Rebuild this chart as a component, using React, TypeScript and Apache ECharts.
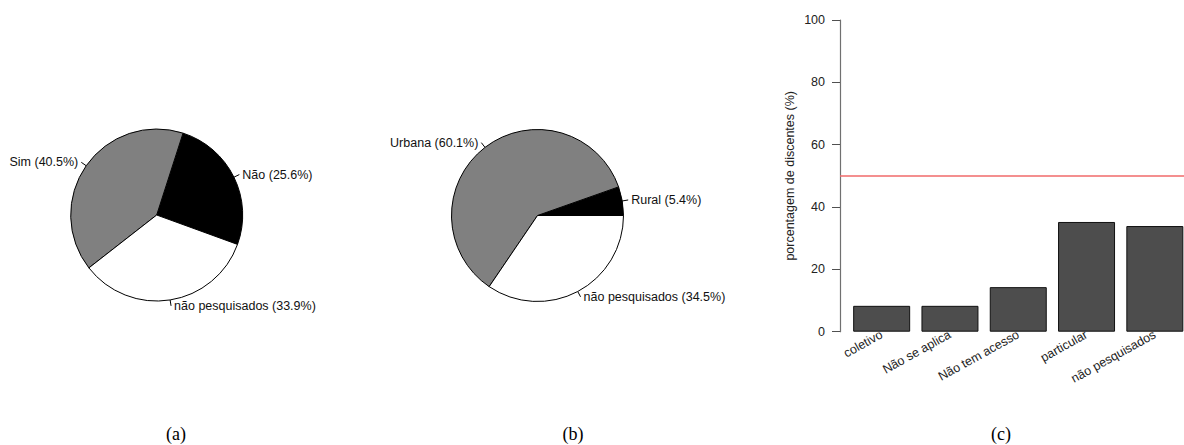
import React, { useEffect, useRef } from "react";
import * as echarts from "echarts";

// ---- data ----
const pieACategories = ["Não", "Sim", "não pesquisados"];
const pieAValues = [25.6, 40.5, 33.9];
const pieBCategories = ["Rural", "Urbana", "não pesquisados"];
const pieBValues = [5.4, 60.1, 34.5];
const sliceColors = ["#000000", "#808080", "#ffffff"];

const barCategories = ["coletivo", "Não se aplica", "Não tem acesso", "particular", "não pesquisados"];
const barValues = [8.3, 8.3, 14.3, 35.2, 33.9];
const referenceLine = 50;
const yAxisName = "porcentagem de discentes (%)";
const captions = ["(a)", "(b)", "(c)"];

const SANS = "'Liberation Sans', Arial, Helvetica, sans-serif";
const SERIF = "'Liberation Serif', 'DejaVu Serif', serif";

function pieSeries(names: string[], values: number[], center: number[], startAngle: number) {
  return {
    type: "pie",
    center,
    radius: 86,
    startAngle,
    clockwise: false,
    avoidLabelOverlap: false,
    silent: true,
    data: names.map((n, i) => ({
      name: n,
      value: values[i],
      itemStyle: { color: sliceColors[i] },
    })),
    itemStyle: { borderColor: "#000", borderWidth: 1 },
    label: {
      show: true,
      position: "outside",
      formatter: "{b} ({c}%)",
      fontFamily: SANS,
      fontSize: 12.5,
      color: "#111",
      distanceToLabelLine: 3,
    },
    labelLine: {
      show: true,
      length: 6,
      length2: 0,
      smooth: false,
      lineStyle: { color: "#000", width: 1 },
    },
    emphasis: { disabled: true },
  };
}

export default function App() {
  const ref = useRef<HTMLDivElement>(null);
  useEffect(() => {
    if (!ref.current) return;
    const chart = echarts.init(ref.current, null, { renderer: "svg" });
    chart.setOption({
      animation: false,
      backgroundColor: "#ffffff",
      grid: {
        left: 840,
        top: 20,
        right: -12.5,
        bottom: 113.3,
        containLabel: false,
        outerBoundsMode: "none",
      },
      xAxis: {
        type: "value",
        min: -0.61,
        max: 4.61,
        show: false,
      },
      yAxis: {
        type: "value",
        min: 0,
        max: 100,
        interval: 20,
        name: yAxisName,
        nameLocation: "middle",
        nameGap: 44,
        nameTextStyle: { fontFamily: SANS, fontSize: 12.5, color: "#222" },
        axisLine: { show: true, onZero: false, lineStyle: { color: "#707070", width: 1.2 } },
        axisTick: { show: true, length: 8, lineStyle: { color: "#505050", width: 1 } },
        axisLabel: { margin: 15, fontFamily: SANS, fontSize: 12.5, color: "#222" },
        splitLine: { show: false },
      },
      series: [
        pieSeries(pieACategories, pieAValues, [156.7, 215], -20),
        pieSeries(pieBCategories, pieBValues, [537.5, 215.5], 0),
        {
          type: "bar",
          silent: true,
          barWidth: 57,
          data: barValues.map((v, i) => ({ value: [i, v], name: barCategories[i] })),
          itemStyle: { color: "#4d4d4d", borderColor: "#111", borderWidth: 1 },
          label: {
            show: true,
            position: "bottom",
            distance: 2,
            rotate: 29,
            align: "right",
            verticalAlign: "middle",
            offset: [4, 0],
            formatter: "{b}",
            fontFamily: SANS,
            fontSize: 12.5,
            color: "#222",
          },
          labelLayout: { hideOverlap: false },
          markLine: {
            silent: true,
            symbol: "none",
            label: { show: false },
            lineStyle: { color: "#f06a6a", width: 1.5, type: "solid" },
            data: [{ yAxis: referenceLine }],
          },
          emphasis: { disabled: true },
        },
      ],
      graphic: [
        { type: "text", x: 176, y: 434, style: { text: captions[0], font: `18px ${SERIF}`, fill: "#000", textAlign: "center", textVerticalAlign: "middle" } },
        { type: "text", x: 573, y: 434, style: { text: captions[1], font: `18px ${SERIF}`, fill: "#000", textAlign: "center", textVerticalAlign: "middle" } },
        { type: "text", x: 1001, y: 434, style: { text: captions[2], font: `18px ${SERIF}`, fill: "#000", textAlign: "center", textVerticalAlign: "middle" } },
      ],
    });
    return () => chart.dispose();
  }, []);
  return (
    <div
      ref={ref}
      style={{ position: "fixed", left: 0, top: 0, width: 1184, height: 445, overflow: "hidden", background: "#fff" }}
    />
  );
}
